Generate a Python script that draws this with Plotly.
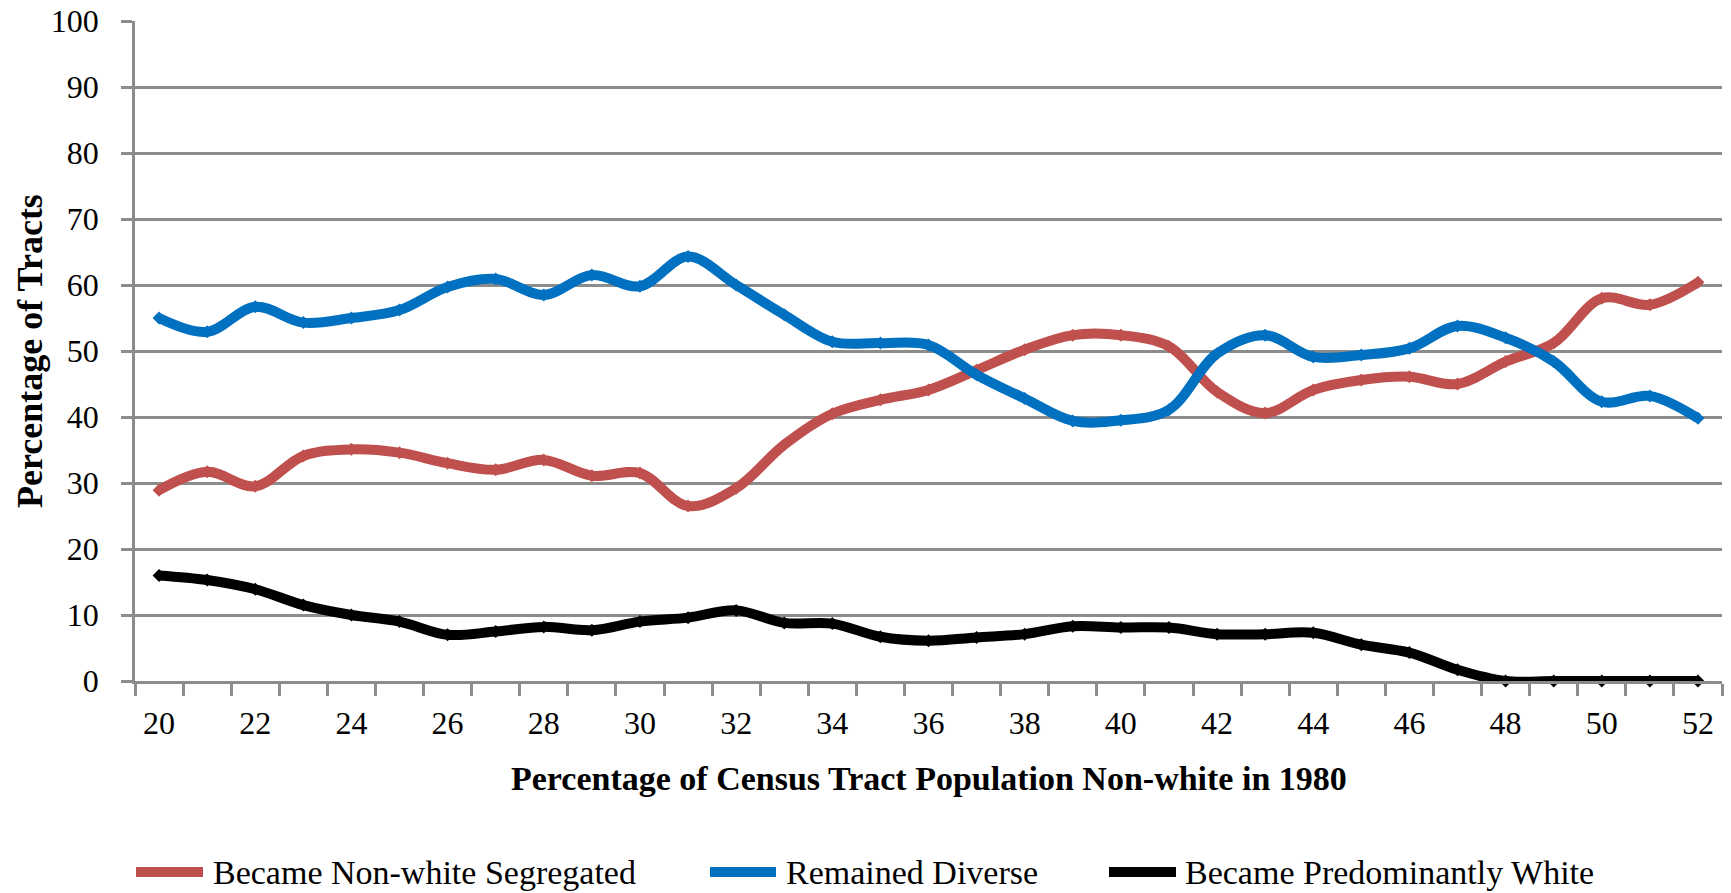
import plotly.graph_objects as go

# ---- data ----
categories = [20, 21, 22, 23, 24, 25, 26, 27, 28, 29, 30, 31, 32, 33, 34, 35, 36,
              37, 38, 39, 40, 41, 42, 43, 44, 45, 46, 47, 48, 49, 50, 51, 52]
tick_labels = [20, 22, 24, 26, 28, 30, 32, 34, 36, 38, 40, 42, 44, 46, 48, 50, 52]
y_ticks = [0, 10, 20, 30, 40, 50, 60, 70, 80, 90, 100]

nonwhite_segregated = [28.9, 31.7, 29.5, 34.1, 35.1, 34.6, 33.0, 32.0, 33.5, 31.1, 31.5,
                       26.5, 29.2, 35.8, 40.5, 42.6, 44.1, 47.1, 50.2, 52.4, 52.4, 50.7,
                       43.8, 40.6, 44.1, 45.6, 46.1, 45.0, 48.4, 51.2, 58.0, 57.0, 60.4]
remained_diverse = [55.0, 52.9, 56.7, 54.3, 55.0, 56.2, 59.7, 60.9, 58.5, 61.5, 59.8,
                    64.3, 60.0, 55.5, 51.4, 51.2, 50.9, 46.4, 42.8, 39.4, 39.5, 41.1,
                    49.6, 52.4, 49.1, 49.4, 50.4, 53.8, 52.0, 48.4, 42.3, 43.2, 39.8]
predominantly_white = [16.0, 15.3, 13.9, 11.5, 10.0, 9.0, 7.0, 7.5, 8.2, 7.7, 9.0,
                       9.6, 10.7, 8.8, 8.7, 6.7, 6.1, 6.6, 7.1, 8.3, 8.1, 8.1,
                       7.1, 7.1, 7.3, 5.5, 4.3, 1.7, 0, 0, 0, 0, 0]

series_names = ["Became Non-white Segregated", "Remained Diverse", "Became Predominantly White"]
series_colors = ["#C0504D", "#0070C0", "#000000"]

FONT = "Liberation Serif, Times New Roman, serif"
GRID = "#8C8C8C"

fig = go.Figure()
for name, vals, col in zip(series_names,
                           [nonwhite_segregated, remained_diverse, predominantly_white],
                           series_colors):
    fig.add_trace(go.Scatter(
        x=categories, y=vals, name=name, mode="lines+markers",
        line=dict(color=col, width=10, shape="spline", smoothing=1),
        marker=dict(symbol="diamond", size=10, color=col),
        showlegend=False, cliponaxis=False,
    ))

# plot area geometry in page px (body margin removed via post_script)
W, H = 1731, 893
L, T = 135, 21
PR, PB = 1722, 681
R, B = W - PR, H - PB
pw = PR - L
ph = PB - T


def px_x(x):
    return (x - L) / pw


def px_y(y):
    return (PB - y) / ph


fig.update_layout(
    width=W, height=H,
    margin=dict(l=L, r=R, t=T, b=B, pad=0, autoexpand=False),
    paper_bgcolor="white", plot_bgcolor="white",
    font=dict(family=FONT, size=32, color="black"),
    showlegend=False,
    xaxis=dict(
        range=[19.5, 52.5], tickmode="array", tickvals=tick_labels,
        ticktext=[str(t) for t in tick_labels], automargin=False,
        ticks="outside", ticklen=12, tickcolor="rgba(0,0,0,0)",
        showgrid=False, zeroline=False,
        showline=True, linecolor=GRID, linewidth=2.5,
        tickfont=dict(family=FONT, size=32, color="black"),
        ticklabeloverflow="allow",
        minor=dict(tick0=19.5, dtick=1, ticks="outside", ticklen=12,
                   tickcolor=GRID, tickwidth=2.5, showgrid=False),
    ),
    yaxis=dict(
        range=[0, 100], tickmode="array", tickvals=y_ticks,
        ticktext=[str(v) for v in y_ticks], automargin=False,
        ticks="outside", ticklen=11, tickcolor=GRID, tickwidth=2.5,
        showgrid=True, gridcolor=GRID, gridwidth=2.5,
        zeroline=False, showline=True, linecolor=GRID, linewidth=2.5,
        tickfont=dict(family=FONT, size=32, color="black"),
        ticklabelstandoff=16, ticklabeloverflow="allow",
    ),
)

annotations = [
    dict(text="<b>Percentage of Census Tract Population Non-white in 1980</b>",
         xref="paper", yref="paper", x=0.5, y=px_y(778),
         xanchor="center", yanchor="middle", showarrow=False,
         font=dict(family=FONT, size=34, color="black")),
    dict(text="<b>Percentage of Tracts</b>", textangle=-90,
         xref="paper", yref="paper", x=px_x(30), y=0.5,
         xanchor="center", yanchor="middle", showarrow=False,
         font=dict(family=FONT, size=36, color="black")),
]

# custom legend (lines + labels)
legend_y = px_y(872)
legend_items = [(132, 207, 211), (706, 780, 784), (1105, 1180, 1183)]
shapes = []
for (x0, x1, xt), name, col in zip(legend_items, series_names, series_colors):
    shapes.append(dict(type="line", xref="paper", yref="paper",
                       x0=px_x(x0 + 4), x1=px_x(x1 - 4), y0=legend_y, y1=legend_y,
                       line=dict(color=col, width=10)))
    annotations.append(dict(text=name, xref="paper", yref="paper",
                            x=px_x(xt), y=legend_y, xanchor="left", yanchor="middle",
                            showarrow=False,
                            font=dict(family=FONT, size=34, color="black")))

fig.update_layout(annotations=annotations, shapes=shapes)

fig.write_html("out.html", config={"displayModeBar": False},
               post_script="document.body.style.margin='0';document.body.style.overflow='hidden';")
